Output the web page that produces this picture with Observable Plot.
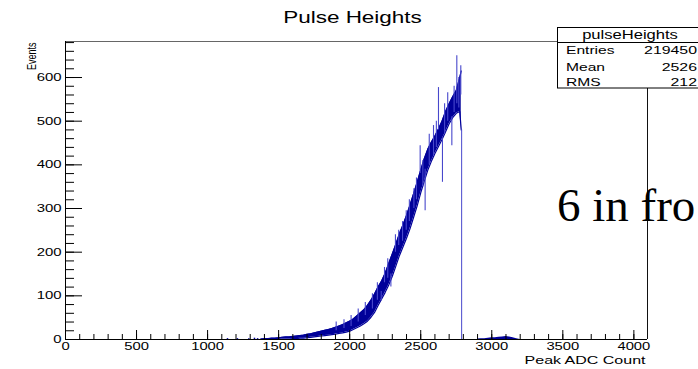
<!DOCTYPE html>
<html>
<head>
<meta charset="utf-8">
<script src="https://cdn.jsdelivr.net/npm/d3@7"></script>
<script src="https://cdn.jsdelivr.net/npm/@observablehq/plot@0.6"></script>
<style>
  html, body { margin: 0; padding: 0; background: #fff; overflow: hidden; }
  #chart { width: 698px; height: 369px; position: relative; }
</style>
</head>
<body>
<div id="chart"></div>
<script>
// Rising edge of the spectrum: ADC position and the low / high extent of the noisy histogram line
const adc = [1375, 1400, 1425, 1450, 1475, 1500, 1525, 1550, 1575, 1600, 1625, 1650, 1675, 1700, 1725,
  1750, 1775, 1800, 1825, 1850, 1875, 1900, 1925, 1950, 1975, 2000, 2025, 2050, 2075, 2100, 2125, 2150,
  2175, 2200, 2225, 2250, 2275, 2300, 2325, 2350, 2375, 2400, 2425, 2450, 2475, 2500, 2525, 2550, 2575,
  2600, 2625, 2650, 2675, 2700, 2725, 2750, 2775, 2785];
const lowCount = [0, 0, 0, 0, 0, 0, 1, 1, 1, 2, 2, 3, 3, 4, 5,
  6, 7, 8, 9, 10, 11, 12, 14, 15, 17, 19, 23, 27, 31, 36, 42, 51,
  62, 78, 93, 108, 125, 145, 168, 192, 212, 232, 254, 280, 306, 336, 362, 388, 408,
  426, 442, 458, 476, 494, 508, 518, 522, 480];
const highCount = [1, 2, 2, 3, 3, 4, 5, 6, 6, 7, 8, 9, 10, 12, 13,
  15, 17, 19, 21, 23, 25, 28, 31, 34, 38, 42, 47, 54, 61, 68, 78, 90,
  104, 120, 134, 152, 174, 196, 218, 242, 262, 284, 308, 334, 360, 388, 414, 436, 452,
  466, 482, 500, 522, 540, 556, 570, 600, 615];

// Single bins sticking out of the band
const spikeAdc  = [1905, 1960, 2010, 2060, 2110, 2160, 2195, 2222, 2245, 2268, 2290, 2322, 2345, 2372, 2398,
  2420, 2452, 2470, 2496, 2515, 2531, 2560, 2590, 2610, 2625, 2653, 2668, 2690, 2719, 2735, 2754, 2768, 2782];
const spikeFrom = [20, 25, 30, 40, 55, 70, 90, 88, 130, 140, 120, 200, 215, 225, 250,
  270, 300, 320, 380, 350, 295, 400, 420, 440, 480, 360, 470, 500, 444, 520, 540, 530, 560];
const spikeTo   = [40, 45, 55, 70, 85, 105, 130, 110, 165, 185, 150, 240, 250, 270, 295,
  320, 345, 370, 444, 410, 390, 470, 490, 500, 577, 460, 540, 565, 510, 580, 650, 600, 627];

// Last filled bin falling back to zero
const cutAdc = [2788];
const cutCount = [480];

// Small bump above the cut
const bumpAdc = [2900, 2925, 2950, 2975, 3000, 3025, 3050, 3075, 3100, 3125, 3150, 3175, 3200];
const bumpCount = [1, 2, 2, 3, 4, 4, 5, 6, 7, 6, 4, 2, 0];

// Scattered single counts below the main distribution
const strayAdc = [1140, 1210, 1290, 1330, 1352];
const strayCount = [2, 2, 2, 3, 2];

const xTicks = [0, 500, 1000, 1500, 2000, 2500, 3000, 3500, 4000];
const yTicks = [0, 100, 200, 300, 400, 500, 600];
const xMinor = d3.range(0, 4001, 100);
const yMinor = d3.range(0, 681, 20);

const title = "Pulse Heights";
const xLabel = "Peak ADC Count";
const yLabel = "Events";
const histName = "pulseHeights";
const statNames = ["Entries", "Mean", "RMS"];
const statValues = ["219450", "2526", "212"];
const note = "6 in fro";

const navy = "#000099";
const thin = "#4848cc";
const sans = "Liberation Sans, Arial, Helvetica, sans-serif";
const STRETCH = 1.38; // ROOT canvas text is drawn wide

const band = adc.map((a, i) => ({adc: a, lo: lowCount[i], hi: highCount[i]}));
const spikes = spikeAdc.map((a, i) => ({adc: a, from: spikeFrom[i], to: spikeTo[i]}));
const cut = cutAdc.map((a, i) => ({adc: a, n: cutCount[i]}));
const bump = bumpAdc.map((a, i) => ({adc: a, n: bumpCount[i]}));
const strays = strayAdc.map((a, i) => ({adc: a, n: strayCount[i]}));

const plain = d => String(d);

const svg = Plot.plot({
  width: 698,
  height: 369,
  marginLeft: 65,
  marginRight: 51,
  marginTop: 41,
  marginBottom: 30,
  style: {fontFamily: sans, color: "black", background: "white"},
  x: {domain: [0, 4096], axis: null},
  y: {domain: [0, 682.5], axis: null},
  marks: [
    // histogram
    Plot.areaY(band, {x: "adc", y1: "lo", y2: "hi", fill: navy, curve: "linear"}),
    Plot.lineY(band, {x: "adc", y: "hi", stroke: navy, strokeWidth: 1.2}),
    Plot.lineY(band, {x: "adc", y: "lo", stroke: navy, strokeWidth: 1.2}),
    Plot.areaY(bump, {x: "adc", y: "n", fill: navy}),
    Plot.ruleX(strays, {x: "adc", y1: 0, y2: "n", stroke: navy, strokeWidth: 1.5}),
    Plot.ruleX(spikes, {x: "adc", y1: "from", y2: "to", stroke: thin, strokeWidth: 1.1}),
    Plot.ruleX(cut, {x: "adc", y1: 0, y2: "n", stroke: thin, strokeWidth: 1}),
    // frame
    Plot.ruleY([682.5], {stroke: "#666"}),
    Plot.ruleX([4096], {stroke: "#111"}),
    // ticks drawn inward, ROOT style
    Plot.axisX({ticks: xMinor, tickSize: -5, fill: "none", label: null}),
    Plot.axisX({ticks: xTicks, tickSize: -9, fill: "none", label: null}),
    Plot.axisX({ticks: xTicks, tickSize: 0, tickPadding: 3, fontSize: 10.7, tickFormat: plain, label: null}),
    Plot.axisY({ticks: yMinor, tickSize: -9, fill: "none", label: null}),
    Plot.axisY({ticks: yTicks, tickSize: -17, fill: "none", label: null}),
    Plot.axisY({ticks: yTicks, tickSize: 0, tickPadding: 4, fontSize: 10.8, tickFormat: plain, label: null}),
    Plot.ruleX([0], {stroke: "black"}),
    Plot.ruleY([0], {stroke: "black"}),
    // titles
    Plot.text([title], {frameAnchor: "top", dx: -4, dy: -19, lineAnchor: "bottom", fontSize: 16.3}),
    Plot.text([xLabel], {frameAnchor: "bottom-right", textAnchor: "end", dx: -2, dy: 24, lineAnchor: "bottom", fontSize: 11.6}),
    Plot.text([yLabel], {frameAnchor: "top-left", textAnchor: "end", rotate: -90, dx: -38, dy: 1, fontSize: 9})
  ]
});

// statistics box in the top-right corner
const box = d3.select(svg).append("g").attr("font-family", sans).attr("fill", "black");
box.append("rect").attr("x", 557.5).attr("y", 27.5).attr("width", 145).attr("height", 60.5)
  .attr("fill", "white").attr("stroke", "black");
box.append("line").attr("x1", 557.5).attr("x2", 702).attr("y1", 42.5).attr("y2", 42.5).attr("stroke", "black");
box.append("text").attr("x", 630).attr("y", 39).attr("text-anchor", "middle").attr("font-size", 12).text(histName);
const rowY = [54.5, 71, 86];
statNames.forEach((name, i) => {
  box.append("text").attr("x", 566).attr("y", rowY[i]).attr("text-anchor", "start").attr("font-size", 11.3).text(name);
  box.append("text").attr("x", 697).attr("y", rowY[i]).attr("text-anchor", "end").attr("font-size", 11.5).text(statValues[i]);
});

// widen every label horizontally around its own anchor
svg.querySelectorAll("text").forEach(t => {
  const tr = t.getAttribute("transform") || "";
  const m = tr.match(/^\s*(translate\([^)]*\))?\s*(.*)$/);
  let pre = m[1] || "";
  const x = t.getAttribute("x");
  if (x !== null && isFinite(+x)) {
    pre += ` translate(${+x},0)`;
    t.removeAttribute("x");
  }
  t.setAttribute("transform", `${pre} scale(${STRETCH},1) ${m[2]}`.trim());
});

// slide text laid over the chart
d3.select(svg).append("text").attr("x", 557).attr("y", 221).attr("text-anchor", "start")
  .attr("font-family", "Liberation Serif, Times New Roman, serif").attr("font-size", 47)
  .attr("fill", "black").text(note);

document.getElementById("chart").append(svg);
</script>
</body>
</html>
